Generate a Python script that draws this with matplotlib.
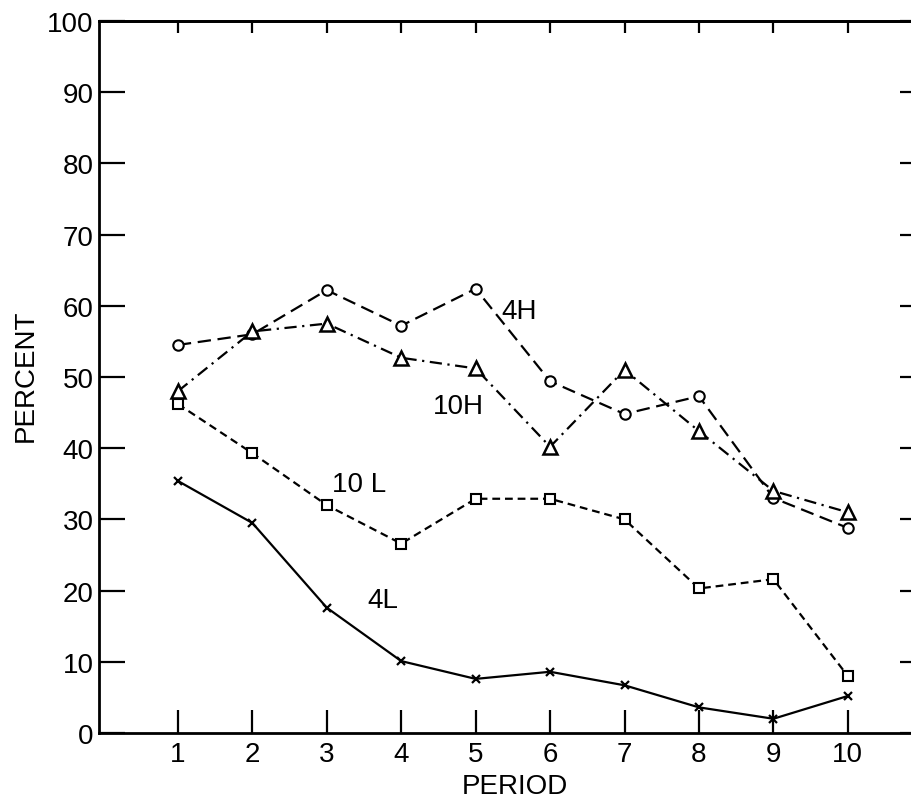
import matplotlib
matplotlib.use("Agg")
import matplotlib.pyplot as plt

periods = [1, 2, 3, 4, 5, 6, 7, 8, 9, 10]
h4 = [54.5, 56.0, 62.2, 57.2, 62.4, 49.4, 44.8, 47.3, 33.0, 28.8]
h10 = [48.0, 56.4, 57.5, 52.7, 51.2, 40.2, 51.0, 42.4, 34.0, 31.0]
l10 = [46.2, 39.3, 32.0, 26.6, 32.9, 32.9, 30.0, 20.3, 21.6, 8.0]
l4 = [35.4, 29.5, 17.6, 10.1, 7.6, 8.6, 6.7, 3.6, 2.0, 5.2]
yticks = [0, 10, 20, 30, 40, 50, 60, 70, 80, 90, 100]

plt.rcParams['font.family'] = ['Liberation Sans', 'DejaVu Sans']
FS = 20
fig = plt.figure(figsize=(9.11, 8.03), dpi=100)
ax = fig.add_axes([99/911, 69/803, 827/911, 712/803])

lw = 1.6
ax.plot(periods, h4, color='black', lw=lw, dashes=(6, 3), marker='o', ms=7.5,
        mfc='white', mec='black', mew=1.5)
ax.plot(periods, h10, color='black', lw=lw, dashes=(5.5, 2.5, 1, 2.5), marker='^', ms=10,
        mfc='white', mec='black', mew=1.8)
ax.plot(periods, l10, color='black', lw=lw, dashes=(3.5, 2.2), marker='s', ms=7,
        mfc='white', mec='black', mew=1.5)
ax.plot(periods, l4, color='black', lw=lw, marker='x', ms=6, mec='black', mew=1.6)

ax.text(5.35, 59.3, '4H', fontsize=FS, ha='left', va='center')
ax.text(4.43, 45.9, '10H', fontsize=FS, ha='left', va='center')
ax.text(3.07, 35.0, '10 L', fontsize=FS, ha='left', va='center')
ax.text(3.54, 18.7, '4L', fontsize=FS, ha='left', va='center')

ax.set_xlim(-0.06, 11.05)
ax.set_ylim(0, 100)
ax.set_xticks(periods)
ax.set_yticks(yticks)
ax.tick_params(axis='x', direction='in', length=16.5, width=1.6, labelsize=FS, pad=6)
ax.tick_params(axis='y', direction='in', length=18.5, width=1.6, labelsize=FS, pad=4,
               right=True)
for s in ax.spines.values():
    s.set_linewidth(2)

top = ax.secondary_xaxis('top')
top.set_xticks(periods)
top.tick_params(direction='in', length=8.5, width=1.6, labeltop=False)
top.spines['top'].set_linewidth(2)

ax.set_xlabel('PERIOD', fontsize=FS, va='center')
ax.set_ylabel('PERCENT', fontsize=FS, va='center')
ax.xaxis.set_label_coords(0.503, -0.0744)
ax.yaxis.set_label_coords(-0.088, 0.503)

fig.savefig('out.png', dpi=100)
